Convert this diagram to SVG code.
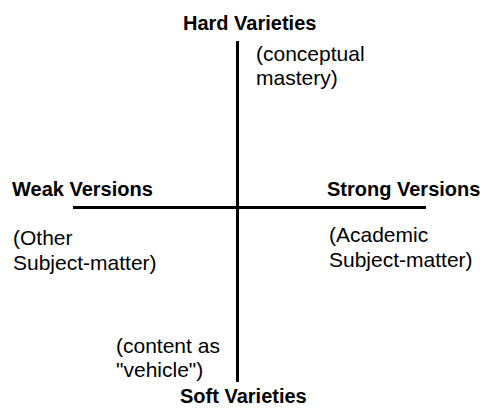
<svg xmlns="http://www.w3.org/2000/svg" width="480" height="409" viewBox="0 0 480 409">
<style>
.b{font-family:"Liberation Sans",Arial,sans-serif;font-weight:bold;font-size:20px;fill:#000}
.r{font-family:"Liberation Sans",Arial,sans-serif;font-size:21px;fill:#000}
.ax{stroke:#000;stroke-width:3;fill:none}
</style>
<rect width="480" height="409" fill="#fff"/>
<g id="connectors">
<line class="ax" x1="237.5" y1="41" x2="237.5" y2="382"/>
<line class="ax" x1="73" y1="207.5" x2="426" y2="207.5"/>
</g>
<g id="hard"><text class="b" x="183" y="30">Hard Varieties</text></g>
<g id="hard-note"><text class="r" x="256" y="61">(conceptual</text><text class="r" x="256" y="85">mastery)</text></g>
<g id="weak"><text class="b" x="12" y="196">Weak Versions</text></g>
<g id="weak-note"><text class="r" x="13" y="245">(Other</text><text class="r" x="13" y="270">Subject-matter)</text></g>
<g id="strong"><text class="b" x="327" y="196">Strong Versions</text></g>
<g id="strong-note"><text class="r" x="329" y="242">(Academic</text><text class="r" x="329" y="267">Subject-matter)</text></g>
<g id="soft-note"><text class="r" x="116" y="353">(content as</text><text class="r" x="116" y="377">"vehicle")</text></g>
<g id="soft"><text class="b" x="180" y="403">Soft Varieties</text></g>
</svg>
